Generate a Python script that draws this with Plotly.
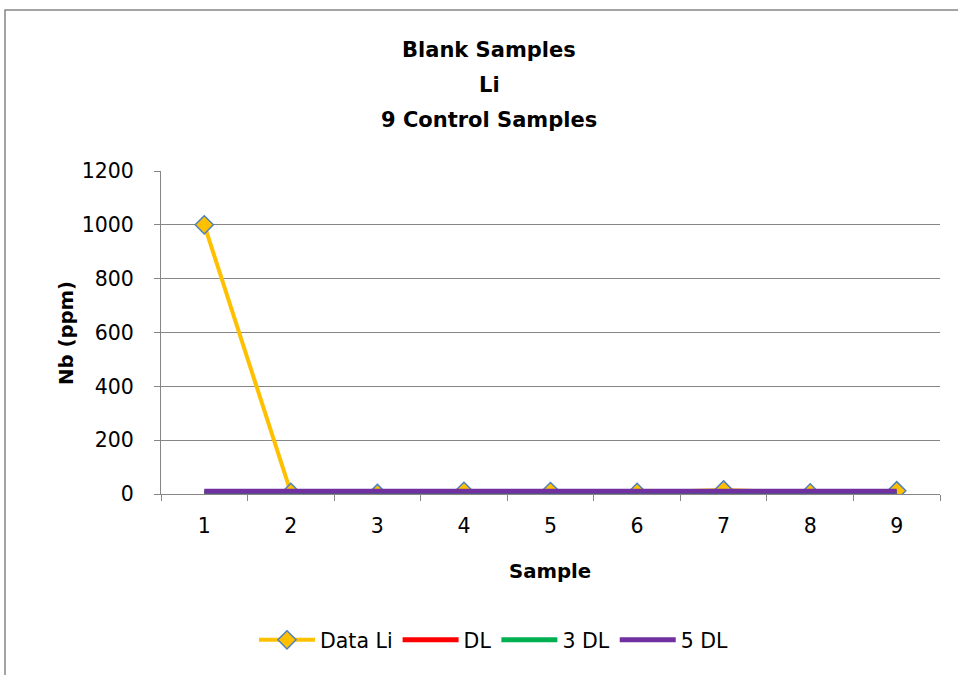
import plotly.graph_objects as go

samples = ["1", "2", "3", "4", "5", "6", "7", "8", "9"]
data_li = [1000, 6, 2, 10, 9, 6, 15, 4, 12]
dl = [2] * 9
dl3 = [6] * 9
dl5 = [10] * 9
title_lines = ["Blank Samples", "Li", "9 Control Samples"]

FONT = "DejaVu Sans"
L, R, T, B = 161, 940, 171, 494
W, H = 958, 675

def px(x):
    return (x - L) / (R - L)

def py(y):
    return (B - y) / (B - T)

fig = go.Figure()
fig.add_trace(go.Scatter(x=samples, y=data_li, name="Data Li", mode="lines+markers",
                         line=dict(color="#FFC000", width=4),
                         marker=dict(symbol="diamond", size=14, color="#FFC000",
                                     line=dict(color="#4F81BD", width=1.5))))
fig.add_trace(go.Scatter(x=samples, y=dl, name="DL", mode="lines",
                         line=dict(color="#FF0000", width=5)))
fig.add_trace(go.Scatter(x=samples, y=dl3, name="3 DL", mode="lines",
                         line=dict(color="#00B050", width=5)))
fig.add_trace(go.Scatter(x=samples, y=dl5, name="5 DL", mode="lines",
                         line=dict(color="#7030A0", width=5)))

fig.update_layout(
    width=W, height=H,
    margin=dict(l=L, r=W - R, t=T, b=H - B),
    paper_bgcolor="white", plot_bgcolor="white",
    font=dict(family=FONT, size=20, color="black"),
    showlegend=True,
    legend=dict(orientation="h", x=px(494), xanchor="center", y=py(640), yanchor="middle",
                font=dict(family=FONT, size=20.5), tracegroupgap=0, itemwidth=56),
    xaxis=dict(type="category", tickson="boundaries", ticks="outside", ticklen=6,
               tickcolor="#868686", showline=True, linecolor="#868686", linewidth=1,
               range=[-0.5, 8.5], showgrid=False, zeroline=False,
               ticklabelstandoff=13,
               tickfont=dict(family=FONT, size=20.5)),
    yaxis=dict(range=[0, 1200], dtick=200, ticks="outside", ticklen=6, tickcolor="#868686",
               showline=True, linecolor="#868686", linewidth=1,
               showgrid=True, gridcolor="#868686", gridwidth=1, zeroline=False,
               ticklabelstandoff=16,
               tickfont=dict(family=FONT, size=20.5)),
)

for text, ypix in zip(title_lines, [50, 85, 120]):
    fig.add_annotation(text=f"<b>{text}</b>", xref="paper", yref="paper",
                       x=px(489), y=py(ypix), xanchor="center", yanchor="middle",
                       showarrow=False, font=dict(family=FONT, size=21, color="black"))

fig.add_annotation(text="<b>Sample</b>", xref="paper", yref="paper",
                   x=px(550), y=py(571), xanchor="center", yanchor="middle",
                   showarrow=False, font=dict(family=FONT, size=19.7, color="black"))
fig.add_annotation(text="<b>Nb (ppm)</b>", xref="paper", yref="paper", textangle=-90,
                   x=px(66), y=py(333), xanchor="center", yanchor="middle",
                   showarrow=False, font=dict(family=FONT, size=19.7, color="black"))

fig.add_shape(type="rect", xref="paper", yref="paper",
              x0=px(5), x1=px(970), y0=py(690), y1=py(10),
              line=dict(color="#868686", width=1.5), fillcolor="rgba(0,0,0,0)", layer="below")

fig.write_html("out.html")
